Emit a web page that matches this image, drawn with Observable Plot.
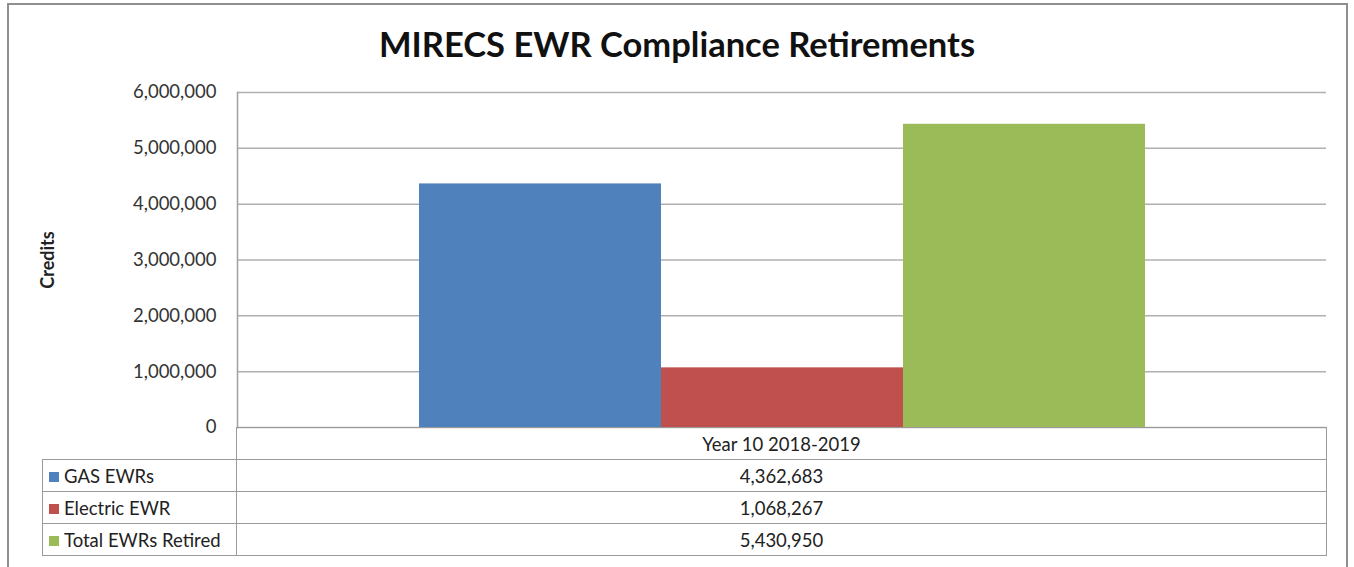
<!DOCTYPE html>
<html>
<head>
<meta charset="utf-8">
<script src="https://cdn.jsdelivr.net/npm/d3@7"></script>
<script src="https://cdn.jsdelivr.net/npm/@observablehq/plot@0.6"></script>
<style>
  html, body { margin: 0; padding: 0; background: #fff; }
  body { width: 1354px; height: 567px; position: relative; overflow: hidden; font-family: Lato, "Open Sans", sans-serif; color: #222; }
  #outer { position: absolute; left: 7px; top: 3px; width: 1341px; height: 580px; border: 2px solid #8f8f8f; box-sizing: border-box; }
  #title { position: absolute; left: 0; top: 23px; width: 1354px; text-align: center; font-size: 34.5px; font-weight: bold; color: #111; }
  #chart { position: absolute; left: 0; top: 0; }
  #tbl { position: absolute; left: 42px; top: 427px; border-collapse: collapse; font-size: 18.5px; }
  #tbl td { border: 1.5px solid #9a9a9a; padding: 0; height: 31px; }
  #tbl td.lab { width: 194px; text-align: left; padding-left: 6px; box-sizing: border-box; white-space: nowrap; }
  #tbl td.val { width: 1089px; text-align: center; }
  #tbl td.empty { border: none; }
  .sw { display: inline-block; width: 10px; height: 10px; margin-right: 5px; vertical-align: 1px; }
</style>
</head>
<body>
<div id="chart"></div>
<div id="outer"></div>
<div id="title"></div>
<table id="tbl"></table>
<script>
const titleText = "MIRECS EWR Compliance Retirements";
const yLabel = "Credits";
const category = "Year 10 2018-2019";
const series = ["GAS EWRs", "Electric EWR", "Total EWRs Retired"];
const values = [4362683, 1068267, 5430950];
const colors = ["#4f81bd", "#c0504d", "#9bbb59"];
const yTicks = [0, 1000000, 2000000, 3000000, 4000000, 5000000, 6000000];

const data = series.map((s, i) => ({series: s, category, value: values[i]}));
const fmt = d3.format(",");

document.getElementById("title").textContent = titleText;

const plot = Plot.plot({
  width: 1354,
  height: 567,
  marginTop: 92,
  marginBottom: 140,
  marginLeft: 237,
  marginRight: 28,
  style: {fontFamily: "Lato, 'Open Sans', sans-serif", fontSize: "18.5px", color: "#333", background: "transparent"},
  x: {domain: series, paddingInner: 0, paddingOuter: 0.747, axis: null},
  y: {domain: [0, 6000000], ticks: yTicks, axis: null},
  color: {domain: series, range: colors},
  marks: [
    Plot.gridY(yTicks, {stroke: "#b0b0b0", strokeOpacity: 1, strokeWidth: 1.5}),
    Plot.axisY(yTicks, {tickSize: 0, tickPadding: 21, tickFormat: fmt, label: null, fill: "#333"}),
    Plot.barY(data, {x: "series", y: "value", fill: "series"}),
    Plot.frame({anchor: "left", stroke: "#a0a0a0", strokeWidth: 1.5}),
    Plot.text([yLabel], {frameAnchor: "left", dx: -189, rotate: -90, textAnchor: "middle", fontWeight: "bold", fontSize: 18, fill: "#222"})
  ]
});
document.getElementById("chart").appendChild(plot);

const tbl = document.getElementById("tbl");
let html = `<tr><td class="lab empty"></td><td class="val">${category}</td></tr>`;
series.forEach((s, i) => {
  html += `<tr><td class="lab"><span class="sw" style="background:${colors[i]}"></span>${s}</td><td class="val">${fmt(values[i])}</td></tr>`;
});
tbl.innerHTML = html;
</script>
</body>
</html>
